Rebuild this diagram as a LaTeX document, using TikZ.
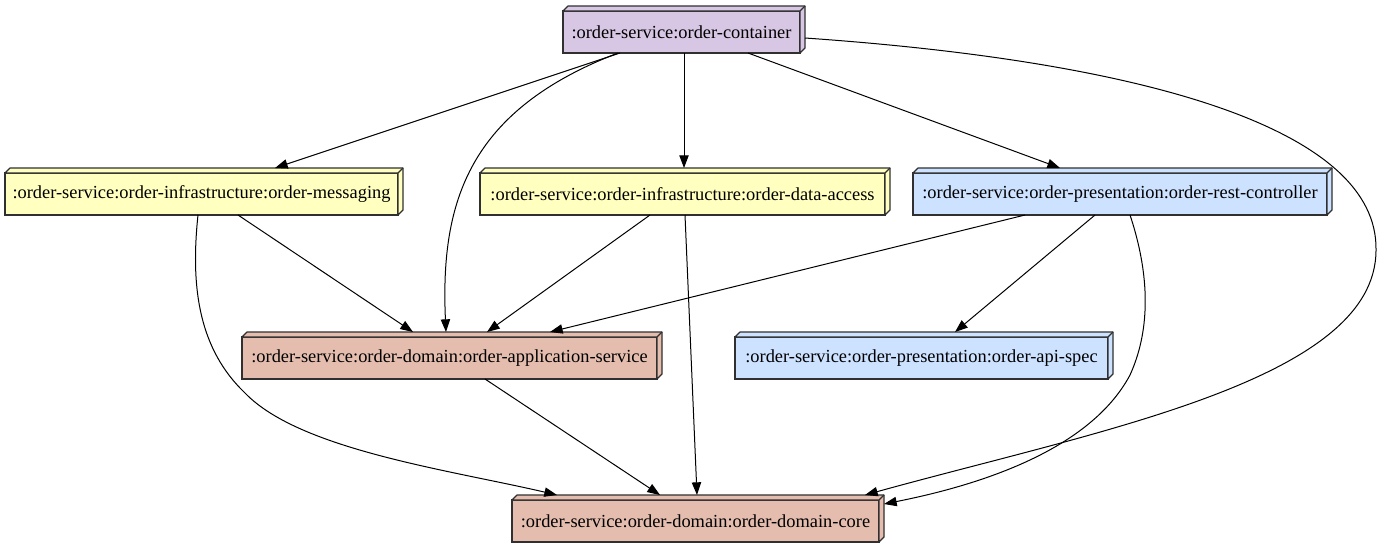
\documentclass[tikz,border=0pt]{standalone}
\usepackage{fontspec}
\setmainfont{Liberation Serif}
\usetikzlibrary{arrows.meta,calc}
\definecolor{contcol}{HTML}{D8C7E4}
\definecolor{infcol}{HTML}{FFFFC0}
\definecolor{prescol}{HTML}{CCE2FF}
\definecolor{domcol}{HTML}{E5BDAF}
\definecolor{edgegray}{HTML}{303030}
\begin{document}
\begin{tikzpicture}[x=0.75pt,y=-0.75pt,
  modbox/.style={draw=edgegray, line width=0.9pt, inner sep=0pt, outer sep=0pt,
    minimum height=31.5pt, font=\fontsize{13.8}{16}\selectfont, fill=#1},
  face/.style={draw=edgegray, line width=0.9pt, line join=round},
  dep/.style={draw=black, line width=0.75pt, -{Triangle[length=9.5pt,width=7pt]}}]
\path[fill=white] (0,0) rectangle (1383,547);
\useasboundingbox (0,0) rectangle (1383,547);

\node[modbox=contcol, minimum width=177.75pt] (C) at (681.5,32) {:order-service:order-container};
\node[modbox=infcol, minimum width=294.75pt] (M) at (201.5,194) {:order-service:order-infrastructure:order-messaging};
\node[modbox=infcol, minimum width=303.75pt] (D) at (682.5,194) {:order-service:order-infrastructure:order-data-access};
\node[modbox=prescol, minimum width=310.5pt] (R) at (1120,194) {:order-service:order-presentation:order-rest-controller};
\node[modbox=domcol, minimum width=311.25pt] (A) at (449.5,358) {:order-service:order-domain:order-application-service};
\node[modbox=prescol, minimum width=279.75pt] (S) at (921.5,358) {:order-service:order-presentation:order-api-spec};
\node[modbox=domcol, minimum width=275.25pt] (K) at (695.5,521) {:order-service:order-domain:order-domain-core};

\foreach \n/\c in {C/contcol,M/infcol,D/infcol,R/prescol,A/domcol,S/prescol,K/domcol}{
  \filldraw[face, fill=\c] (\n.north west) -- ++(5,-5) -- ($(\n.north east)+(5,-5)$)
    -- ($(\n.south east)+(5,-5)$) -- (\n.south east) -- (\n.north east) -- cycle;
  \draw[face] (\n.north east) -- ++(5,-5);
}

\coordinate (bendCK) at (1376,250);
\coordinate (bendMK) at (245,393);
\coordinate (bendRK) at (1130,375);

\draw[dep] ($(C.south west)+(57,0)$) -- ($(M.north west)+(270,-5)$);
\draw[dep] ($(C.south west)+(55,0)$) .. controls (470,110) and (440,200) .. ($(A.north west)+(204,-5)$);
\draw[dep] ($(C.south west)+(121,0)$) -- ($(D.north west)+(204,-5)$);
\draw[dep] ($(C.south west)+(185,0)$) -- ($(R.north west)+(147,-5)$);
\draw[dep] ($(C.north east)+(5,27)$) .. controls (1150,62) and (1378,130) .. (bendCK)
  .. controls (1376,380) and (1100,430) .. ($(K.north west)+(353,-5)$);
\draw[dep] ($(M.south west)+(233,0)$) -- ($(A.north west)+(171,-5)$);
\draw[dep] ($(M.south west)+(193,0)$) .. controls (190,290) and (200,350) .. (bendMK)
  .. controls (300,450) and (450,470) .. ($(K.north west)+(45,-5)$);
\draw[dep] ($(D.south west)+(170,0)$) -- ($(A.north west)+(245,-5)$);
\draw[dep] ($(D.south west)+(205,0)$) -- ($(K.north west)+(185,-5)$);
\draw[dep] ($(R.south west)+(112,0)$) -- ($(A.north west)+(308,-5)$);
\draw[dep] ($(R.south west)+(182,0)$) -- ($(S.north west)+(220,-5)$);
\draw[dep] ($(R.south west)+(217,0)$) .. controls (1145,260) and (1155,320) .. (bendRK)
  .. controls (1090,450) and (980,485) .. ($(K.north east)+(5,4)$);
\draw[dep] ($(A.south west)+(243,0)$) -- ($(K.north west)+(148,-5)$);
\end{tikzpicture}
\end{document}
